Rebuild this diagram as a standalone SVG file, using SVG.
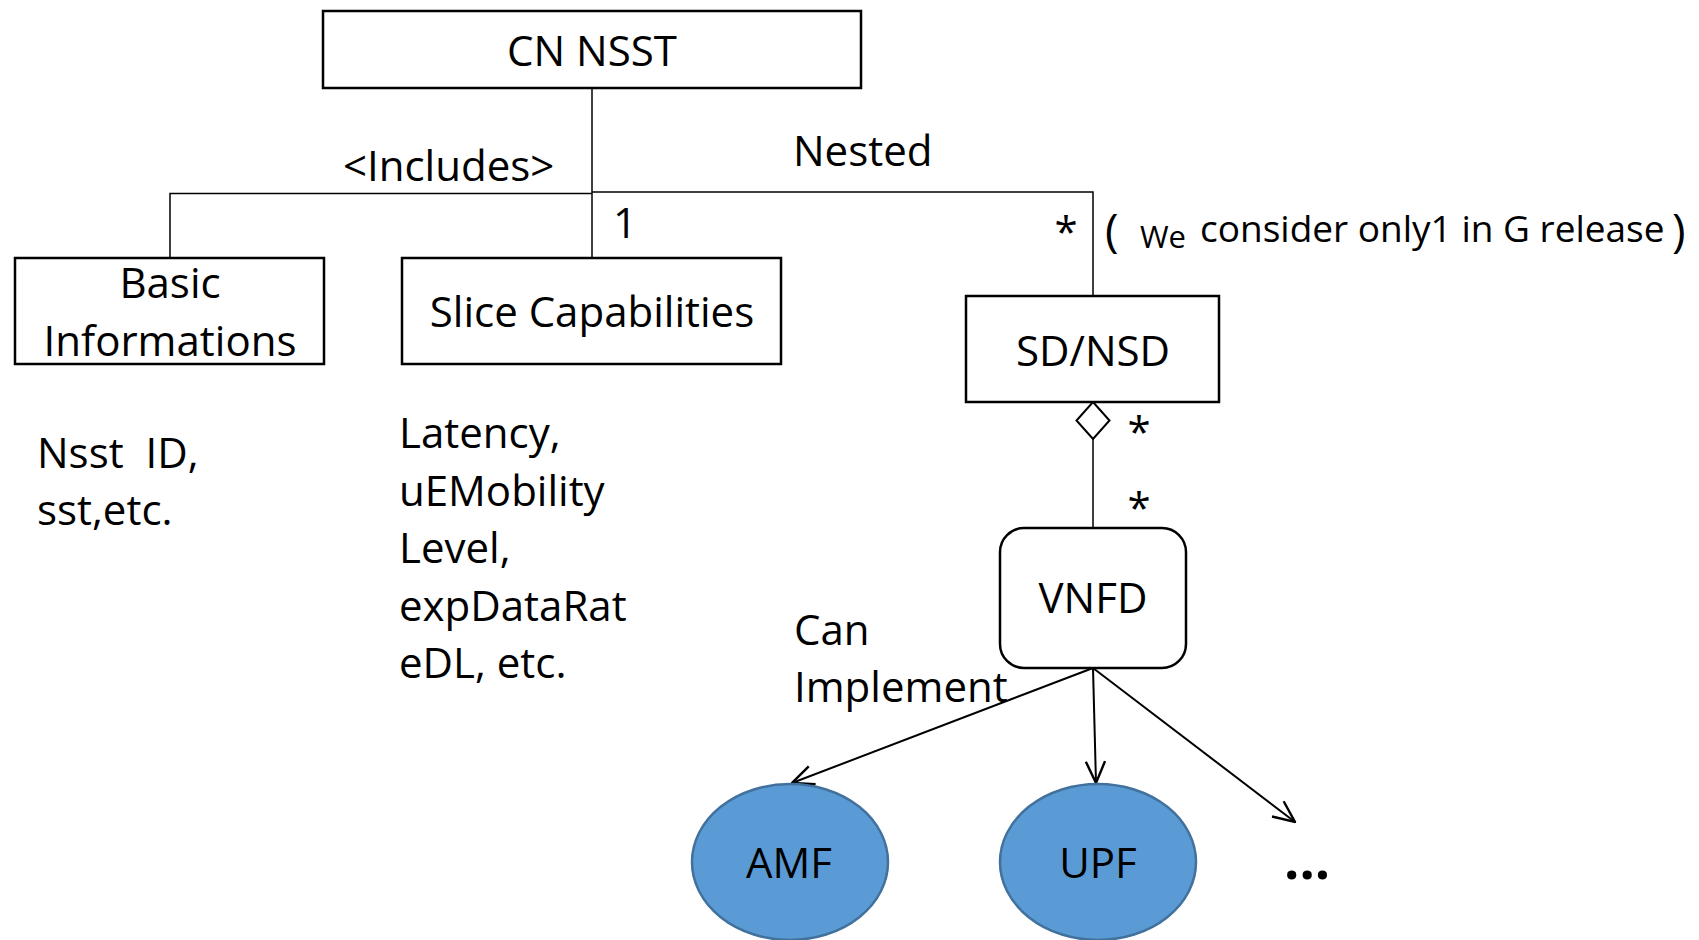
<svg xmlns="http://www.w3.org/2000/svg" width="1699" height="940" viewBox="0 0 1699 940">
<style>
text{font-family:"Open Sans","Noto Sans","Liberation Sans",sans-serif;font-size:42px;fill:#000}
.box{fill:#fff;stroke:#000;stroke-width:2.5}
.line{fill:none;stroke:#000;stroke-width:1.5}
.arrow{fill:none;stroke:#000;stroke-width:2}
.nf{fill:#5B9BD5;stroke:#41719C;stroke-width:2.5}
.c{text-anchor:middle}
.paren{font-size:46px}
</style>
<defs>
<marker id="open" viewBox="0 0 20 20" refX="19" refY="10" markerWidth="24" markerHeight="24" markerUnits="userSpaceOnUse" orient="auto">
<path d="M1,2 L19,10 L1,18" fill="none" stroke="#000" stroke-width="2"/>
</marker>
</defs>
<rect width="1699" height="940" fill="#fff"/>
<g id="connectors">
<path class="line" d="M592,88 V258"/>
<path class="line" d="M170,258 V193.5 H592"/>
<path class="line" d="M592,192 H1093 V296"/>
<path class="line" d="M1093,439 V528"/>
<polygon points="1093,402 1109.5,420.5 1093,439 1076.5,420.5" fill="#fff" stroke="#000" stroke-width="2"/>
<path class="arrow" d="M1093,668 L792,783" marker-end="url(#open)"/>
<path class="arrow" d="M1093,668 L1096,783" marker-end="url(#open)"/>
<path class="arrow" d="M1093,668 L1295,822" marker-end="url(#open)"/>
<text x="343" y="181">&lt;Includes&gt;</text>
<text x="793" y="166">Nested</text>
<text x="613" y="238">1</text>
<text class="c" x="1066" y="247">*</text>
<text class="paren" x="1105" y="247">(</text>
<text x="1140" y="248" style="font-size:31px">We</text>
<text x="1200" y="242" style="font-size:37px">consider only1 in G release</text>
<text class="paren" x="1672" y="247">)</text>
<text class="c" x="1139" y="447">*</text>
<text class="c" x="1139" y="523">*</text>
<text x="794" y="645">Can</text>
<text x="794" y="702">Implement</text>
</g>
<g id="cn-nsst">
<rect class="box" x="323" y="11" width="538" height="77"/>
<text class="c" x="592" y="66">CN NSST</text>
</g>
<g id="basic-informations">
<rect class="box" x="15" y="258" width="309" height="106"/>
<text class="c" x="170" y="298">Basic</text>
<text class="c" x="170" y="356">Informations</text>
</g>
<g id="basic-details">
<text x="37" y="468" xml:space="preserve" style="white-space:pre">Nsst  ID,</text>
<text x="37" y="525">sst,etc.</text>
</g>
<g id="slice-capabilities">
<rect class="box" x="402" y="258" width="379" height="106"/>
<text class="c" x="592" y="327">Slice Capabilities</text>
</g>
<g id="slice-details">
<text x="399" y="448">Latency,</text>
<text x="399" y="506">uEMobility</text>
<text x="399" y="563">Level,</text>
<text x="399" y="621">expDataRat</text>
<text x="399" y="678">eDL, etc.</text>
</g>
<g id="sd-nsd">
<rect class="box" x="966" y="296" width="253" height="106"/>
<text class="c" x="1093" y="366">SD/NSD</text>
</g>
<g id="vnfd">
<rect class="box" x="1000" y="528" width="186" height="140" rx="24" ry="24"/>
<text class="c" x="1093" y="613">VNFD</text>
</g>
<g id="amf">
<ellipse class="nf" cx="790" cy="862" rx="98" ry="78"/>
<text class="c" x="789" y="878">AMF</text>
</g>
<g id="upf">
<ellipse class="nf" cx="1098" cy="862" rx="98" ry="78"/>
<text class="c" x="1098" y="878">UPF</text>
</g>
<g id="more">
<text x="1284" y="879" style="font-size:54px;font-weight:bold">...</text>
</g>
</svg>
